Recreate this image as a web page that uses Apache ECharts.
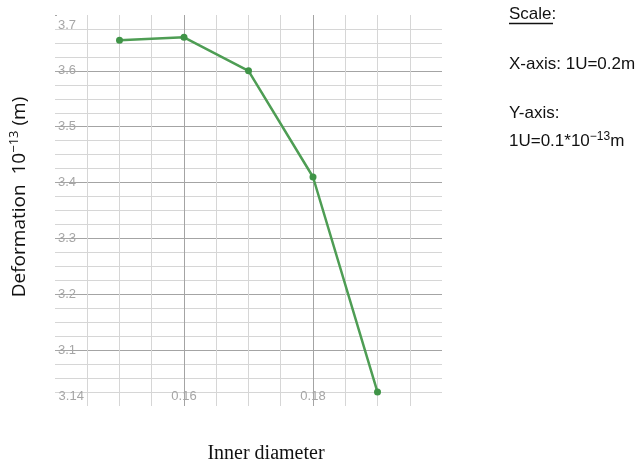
<!DOCTYPE html>
<html>
<head>
<meta charset="utf-8">
<script src="https://cdn.jsdelivr.net/npm/echarts@6/dist/echarts.min.js"></script>
<style>
  html, body { margin: 0; padding: 0; background: #fff; }
  #chart { width: 639px; height: 470px; }
</style>
</head>
<body>
<div id="chart"></div>
<script>
// inner diameter (m) and deformation (x 10^-13 m)
const innerDiameter = [0.15, 0.16, 0.17, 0.18, 0.19];
const deformation = [3.655, 3.66, 3.6, 3.41, 3.025];

const xRange = [0.14, 0.20];
const yRange = [3.0, 3.7];

const chart = echarts.init(document.getElementById('chart'));

const minorLine = { show: true, showMinLine: false, showMaxLine: false, lineStyle: { color: '#d6d6d6', width: 1 } };
const majorLine = { show: true, showMinLine: false, showMaxLine: false, lineStyle: { color: '#a4a4a4', width: 1 } };

const option = {
  animation: false,
  grid: { left: 55, right: 197, top: 15, bottom: 64 },
  xAxis: [
    {
      type: 'value', min: xRange[0], max: xRange[1], interval: 0.005,
      axisLine: { show: false }, axisTick: { show: false }, axisLabel: { show: false },
      splitLine: minorLine
    },
    {
      type: 'value', min: xRange[0], max: xRange[1], interval: 0.02, position: 'bottom',
      axisLine: { show: false }, axisTick: { show: false },
      axisLabel: {
        inside: true, margin: 3, color: '#a6a6a6', fontSize: 13,
        fontFamily: 'Liberation Sans', showMaxLabel: false, alignMinLabel: 'left',
        formatter: v => Math.abs(v - 0.14) < 1e-6 ? ' 3.14' : v.toFixed(2)
      },
      splitLine: majorLine
    }
  ],
  yAxis: [
    {
      type: 'value', min: yRange[0], max: yRange[1], interval: 0.025,
      axisLine: { show: false }, axisTick: { show: false }, axisLabel: { show: false },
      splitLine: minorLine
    },
    {
      type: 'value', min: yRange[0], max: yRange[1], interval: 0.1, position: 'left',
      axisLine: { show: false },
      axisTick: { show: true, inside: true, length: 2, lineStyle: { color: '#a6a6a6' } },
      axisLabel: {
        inside: true, margin: 3, color: '#a6a6a6', fontSize: 13,
        fontFamily: 'Liberation Sans', showMinLabel: false, verticalAlignMaxLabel: 'top',
        formatter: v => v > 3.65 ? '{t|' + v.toFixed(1) + '}' : v.toFixed(1),
        rich: { t: { color: '#a6a6a6', fontSize: 13, fontFamily: 'Liberation Sans', padding: [4, 0, 0, 0] } }
      },
      splitLine: majorLine
    }
  ],
  series: [{
    type: 'line',
    xAxisIndex: 0, yAxisIndex: 0,
    data: innerDiameter.map((x, i) => [x, deformation[i]]),
    symbol: 'circle', symbolSize: 7,
    lineStyle: { color: '#4e9d54', width: 2.5 },
    itemStyle: { color: '#3f9447' }
  }],
  graphic: [
    {
      type: 'text', x: 20, y: 197, rotation: Math.PI / 2,
      style: {
        text: '{b|Deformation  10}{s|−13}{b| (m)}',
        align: 'center', verticalAlign: 'middle',
        rich: {
          b: { fontSize: 19, fontFamily: 'Open Sans', fill: '#111', lineHeight: 26 },
          s: { fontSize: 13, fontFamily: 'Open Sans', fill: '#111', padding: [0, 0, 11, 0] }
        }
      }
    },
    {
      type: 'text', x: 266, y: 454,
      style: { text: 'Inner diameter', font: '20px "Liberation Serif"', fill: '#111', align: 'center', verticalAlign: 'middle' }
    },
    {
      type: 'text', x: 509, y: 14,
      style: { text: 'Scale:', font: '17px "Liberation Sans"', fill: '#111', verticalAlign: 'middle' }
    },
    {
      type: 'line', shape: { x1: 509, y1: 23.5, x2: 553, y2: 23.5 },
      style: { stroke: '#111', lineWidth: 1.5 }
    },
    {
      type: 'text', x: 509, y: 64,
      style: { text: 'X-axis: 1U=0.2m', font: '17px "Liberation Sans"', fill: '#111', verticalAlign: 'middle' }
    },
    {
      type: 'text', x: 509, y: 113,
      style: { text: 'Y-axis:', font: '17px "Liberation Sans"', fill: '#111', verticalAlign: 'middle' }
    },
    {
      type: 'text', x: 509, y: 141,
      style: {
        text: '{b|1U=0.1*10}{s|−13}{b|m}', verticalAlign: 'middle',
        rich: {
          b: { fontSize: 17, fontFamily: 'Liberation Sans', fill: '#111', lineHeight: 22 },
          s: { fontSize: 12, fontFamily: 'Liberation Sans', fill: '#111', padding: [0, 0, 9, 0] }
        }
      }
    }
  ]
};

chart.setOption(option);
window.addEventListener('resize', chart.resize);
</script>
</body>
</html>
